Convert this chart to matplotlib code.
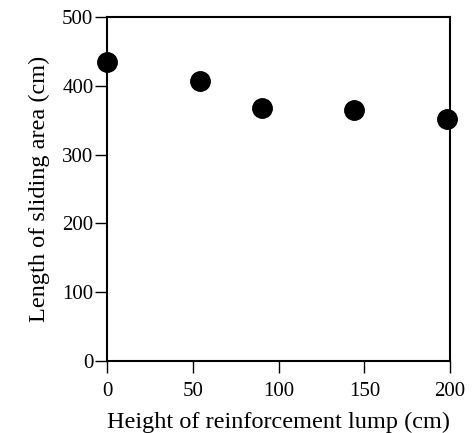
import matplotlib
matplotlib.use("Agg")
import matplotlib.pyplot as plt

heights = [0, 54, 90, 144, 198]
lengths = [434.5, 407, 367.5, 365, 352]
xticks = [0, 50, 100, 150, 200]
yticks = [0, 100, 200, 300, 400, 500]

plt.rcParams['font.family'] = ['Liberation Serif', 'DejaVu Serif']

fig = plt.figure(figsize=(4.75, 4.33), dpi=100)
W, H = 475, 433
ax = fig.add_axes([107.3 / W, 1 - 360.7 / H, (450 - 107.3) / W, (360.7 - 17.3) / H])
ax.plot(heights, lengths, 'o', color='black', markersize=14, clip_on=False, zorder=3)
ax.set_xlim(0, 200)
ax.set_ylim(0, 500)
ax.set_xticks(xticks)
ax.set_yticks(yticks)
ax.tick_params(direction='out', length=8.5, width=1, labelsize=15, colors='black')
ax.tick_params(axis='y', pad=1.5)
ax.tick_params(axis='x', pad=6.5)
for s in ax.spines.values():
    s.set_linewidth(1.5)
ax.set_xlabel('Height of reinforcement lump (cm)', fontsize=17.5, labelpad=8)
ax.set_ylabel('Length of sliding area (cm)', fontsize=17.5, labelpad=9)
fig.savefig('out.png', dpi=100)
